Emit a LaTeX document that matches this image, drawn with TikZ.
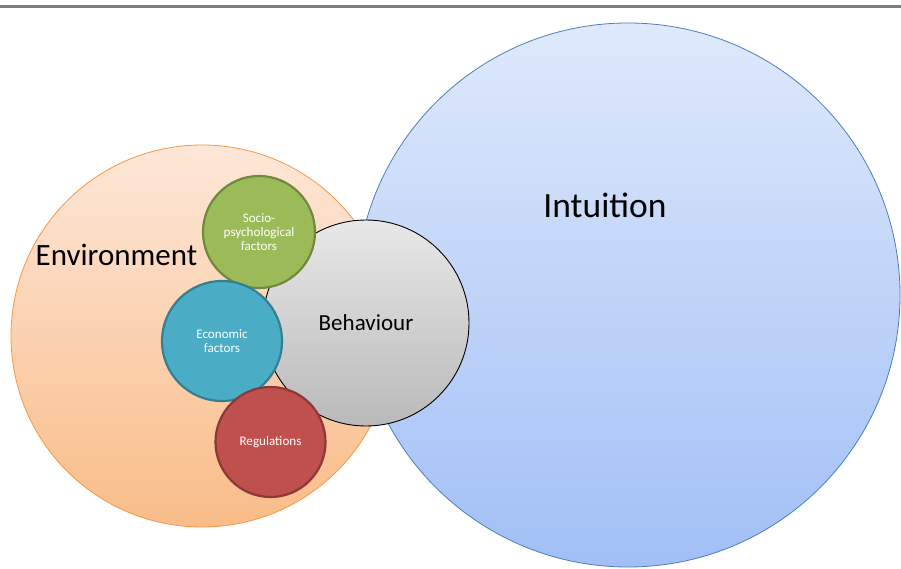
\documentclass[tikz,border=0pt]{standalone}
\usepackage{fontspec}
\setmainfont{Carlito}
\begin{document}
\begin{tikzpicture}[x=1pt,y=-1pt,
  bigcirc/.style={circle,inner sep=0pt,line width=0.8pt},
  smallcirc/.style={circle,inner sep=0pt,line width=2.2pt,text=white,align=center,
    font=\fontsize{13.1}{13.6}\selectfont},
  biglabel/.style={anchor=base,inner sep=0pt,text=black}]
\definecolor{blueT}{HTML}{DFE9FB}
\definecolor{blueB}{HTML}{A1BFF6}
\definecolor{blueL}{HTML}{4A7EBB}
\definecolor{orT}{HTML}{FDE7D8}
\definecolor{orB}{HTML}{F9BC88}
\definecolor{orL}{HTML}{F79646}
\definecolor{grT}{HTML}{E8E8E8}
\definecolor{grB}{HTML}{B9B9B9}
\definecolor{greenF}{HTML}{9BBB59}
\definecolor{greenL}{HTML}{71893F}
\definecolor{tealF}{HTML}{4BACC6}
\definecolor{tealL}{HTML}{357F93}
\definecolor{redF}{HTML}{C0504D}
\definecolor{redL}{HTML}{8C3836}
\definecolor{rule}{HTML}{7F7F7F}
\useasboundingbox (0,0) rectangle (901,569);
\coordinate (tl) at (0,6.5);
\coordinate (tr) at (901,6.5);
\draw[line width=2.2pt,rule] (tl) -- (tr);
\node[bigcirc,draw=orL,top color=orT,bottom color=orB,minimum size=382pt] (env) at (202,336) {};
\node[bigcirc,draw=blueL,top color=blueT,bottom color=blueB,minimum size=544pt] (intu) at (628,295) {};
\node[biglabel,font=\fontsize{31}{36}\selectfont] (envlab) at (116.5,265) {Environment};
\node[biglabel,font=\fontsize{35.5}{40}\selectfont] (intulab) at (605,217.5) {Intuition};
\node[circle,inner sep=0pt,draw=black,line width=0.9pt,top color=grT,bottom color=grB,
  minimum size=206pt,font=\fontsize{23}{26}\selectfont] (beh) at (366,323) {Behaviour};
\node[smallcirc,draw=greenL,fill=greenF,minimum size=112pt] (socio) at (259,232) {Socio-\\psychological\\factors};
\node[smallcirc,draw=tealL,fill=tealF,minimum size=120pt] (econ) at (222,341) {Economic\\factors};
\node[smallcirc,draw=redL,fill=redF,minimum size=110pt] (reg) at (270.5,442) {Regulations};
\end{tikzpicture}
\end{document}
